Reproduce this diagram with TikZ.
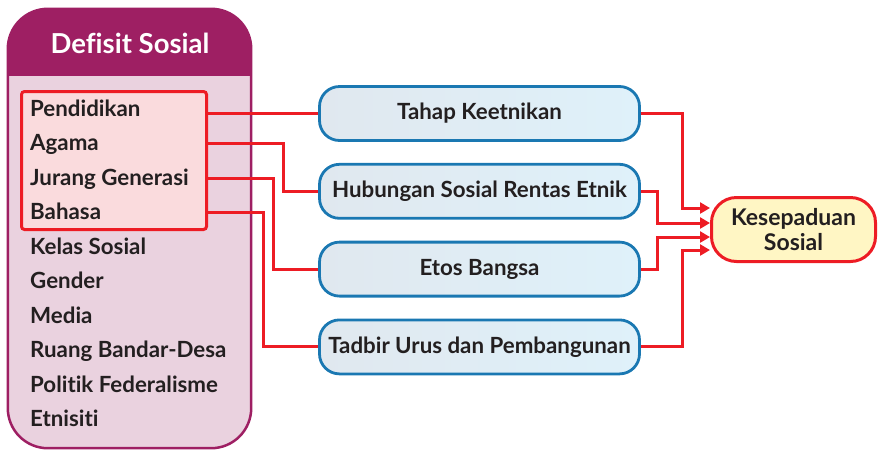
\documentclass[tikz,border=0pt]{standalone}
\usepackage{fontspec}
\setmainfont{Lato}[Ligatures=NoCommon]
\usepackage{tikz}
\usetikzlibrary{arrows.meta,positioning}
\definecolor{defisitpurple}{HTML}{9E1F63}
\definecolor{defisitpink}{HTML}{EAD2DF}
\definecolor{linkred}{HTML}{ED1C24}
\definecolor{groupfill}{HTML}{FADBDD}
\definecolor{factorblue}{HTML}{1A78B2}
\definecolor{factorleft}{HTML}{E0E8EF}
\definecolor{factorright}{HTML}{DFF1FA}
\definecolor{resultfill}{HTML}{FFF6C4}
\definecolor{bodytext}{HTML}{231F20}

\tikzset{
    itemtext/.style={anchor=base west, inner sep=0pt, text=bodytext, font=\fontsize{22.3}{26}\selectfont\bfseries},
    factorbox/.style={draw=factorblue, line width=2.8pt, rounded corners=20pt, left color=factorleft, right color=factorright,
        minimum width=320pt, minimum height=54pt, inner sep=0pt, text=bodytext, font=\fontsize{22.3}{26}\selectfont\bfseries},
    resultbox/.style={draw=linkred, line width=3pt, rounded corners=25pt, fill=resultfill, minimum width=164pt, minimum height=64pt,
        align=center, text=bodytext, font=\fontsize{23}{25}\selectfont\bfseries},
    link/.style={draw=linkred, line width=3pt},
    linkarrow/.style={link, -{Triangle[length=10pt,width=11pt]}}
}

\begin{document}
\begin{tikzpicture}[x=1pt, y=-1pt]
    \useasboundingbox (0,0) rectangle (879,451);

    \node[fill=defisitpink, rounded corners=40pt, minimum width=243pt, minimum height=439pt] (defisit) at (129.5,228.5) {};
    \begin{scope}
        \clip[rounded corners=40pt] (defisit.south west) rectangle (defisit.north east);
        \fill[defisitpurple] (defisit.north west) rectangle ([yshift=-67pt]defisit.north east);
    \end{scope}
    \draw[defisitpurple, line width=2.5pt, rounded corners=40pt] (defisit.south west) rectangle (defisit.north east);
    \node[text=white, font=\fontsize{27.5}{30}\selectfont\bfseries] (judul) at (130,43) {Defisit Sosial};

    \node[draw=linkred, line width=3pt, fill=groupfill, rounded corners=3pt, minimum width=185pt, minimum height=138pt] (kumpulan) at (114,160.5) {};

    \foreach \name/\label [count=\i] in {pendidikan/Pendidikan, agama/Agama, jurang/Jurang Generasi, bahasa/Bahasa,
        kelas/Kelas Sosial, gender/Gender, media/Media, ruang/Ruang Bandar-Desa, politik/Politik Federalisme, etnisiti/Etnisiti}
        \node[itemtext] (\name) at (30,{116+34.55*(\i-1)}) {\label};

    \node[factorbox] (tahap) at (479.5,113.5) {Tahap Keetnikan};
    \node[factorbox, below=21pt of tahap] (hubungan) {Hubungan Sosial Rentas Etnik};
    \node[factorbox, below=21pt of hubungan] (etos) {Etos Bangsa};
    \node[factorbox, below=21pt of etos] (tadbir) {Tadbir Urus dan Pembangunan};

    \node[resultbox] (kesepaduan) at (793.5,229.5) {Kesepaduan\\Sosial};

    \draw[link] (kumpulan.east |- tahap.west) -- (tahap.west);
    \draw[link] ([yshift=7pt]agama.base -| kumpulan.east) -- ++(75,0) |- (hubungan.west);
    \draw[link] ([yshift=7pt]jurang.base -| kumpulan.east) -- ++(65,0) |- (etos.west);
    \draw[link] ([yshift=7pt]bahasa.base -| kumpulan.east) -- ++(55,0) |- (tadbir.west);

    \draw[linkarrow] (tahap.east) -- ++(42,0) |- ([yshift=21.5pt]kesepaduan.west);
    \draw[linkarrow] (hubungan.east) -- ++(17,0) |- ([yshift=6.5pt]kesepaduan.west);
    \draw[linkarrow] (etos.east) -- ++(17,0) |- ([yshift=-7.5pt]kesepaduan.west);
    \draw[linkarrow] (tadbir.east) -- ++(42,0) |- ([yshift=-20.5pt]kesepaduan.west);
\end{tikzpicture}
\end{document}
